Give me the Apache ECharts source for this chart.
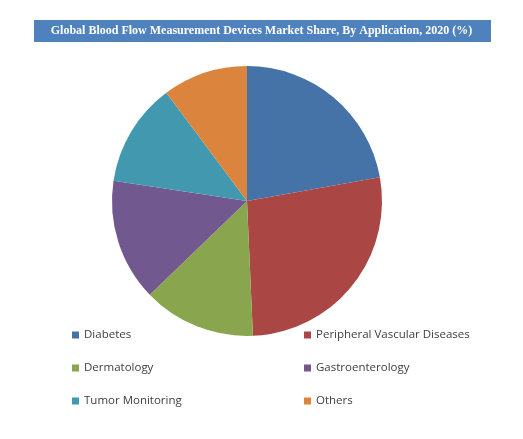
<!DOCTYPE html>
<html>
<head>
<meta charset="utf-8">
<script src="https://cdn.jsdelivr.net/npm/echarts@6/dist/echarts.min.js"></script>
<style>
html,body{margin:0;padding:0;background:#fff;}
#chart{width:523px;height:439px;}
</style>
</head>
<body>
<div id="chart"></div>
<script>
const categories = ['Diabetes','Peripheral Vascular Diseases','Dermatology','Gastroenterology','Tumor Monitoring','Others'];
const shares = [22.2, 27.1, 13.5, 14.6, 12.4, 10.2];
const colors = ['#4572A7','#AA4643','#89A54E','#71588F','#4198AF','#DB843D'];
const leftLegend = ['Diabetes','Dermatology','Tumor Monitoring'];
const rightLegend = ['Peripheral Vascular Diseases','Gastroenterology','Others'];

const chart = echarts.init(document.getElementById('chart'));
const legendText = {fontFamily:'Open Sans', fontSize:11.5, color:'#404040', lineHeight:14};
chart.setOption({
  animation:false,
  color: colors,
  graphic:[{type:'rect', shape:{x:34,y:20,width:457,height:22}, style:{fill:'#4F81BD'}, z:-1}],
  title:{
    text:'Global Blood Flow Measurement Devices Market Share, By Application, 2020 (%)',
    left:'center', top:20, padding:0,
    textStyle:{fontFamily:'Liberation Serif', fontWeight:'bold', fontSize:12, color:'#fff', lineHeight:22}
  },
  legend:[
    {data:leftLegend, orient:'vertical', left:72, top:328, itemWidth:7, itemHeight:7, itemGap:19, icon:'rect', textStyle:legendText, padding:0},
    {data:rightLegend, orient:'vertical', left:304, top:328, itemWidth:7, itemHeight:7, itemGap:19, icon:'rect', textStyle:legendText, padding:0}
  ],
  series:[{
    type:'pie',
    center:[247,201],
    radius:135,
    startAngle:90,
    clockwise:true,
    label:{show:false},
    labelLine:{show:false},
    silent:true,
    data: categories.map((c,i)=>({name:c, value:shares[i]}))
  }]
});
</script>
</body>
</html>
